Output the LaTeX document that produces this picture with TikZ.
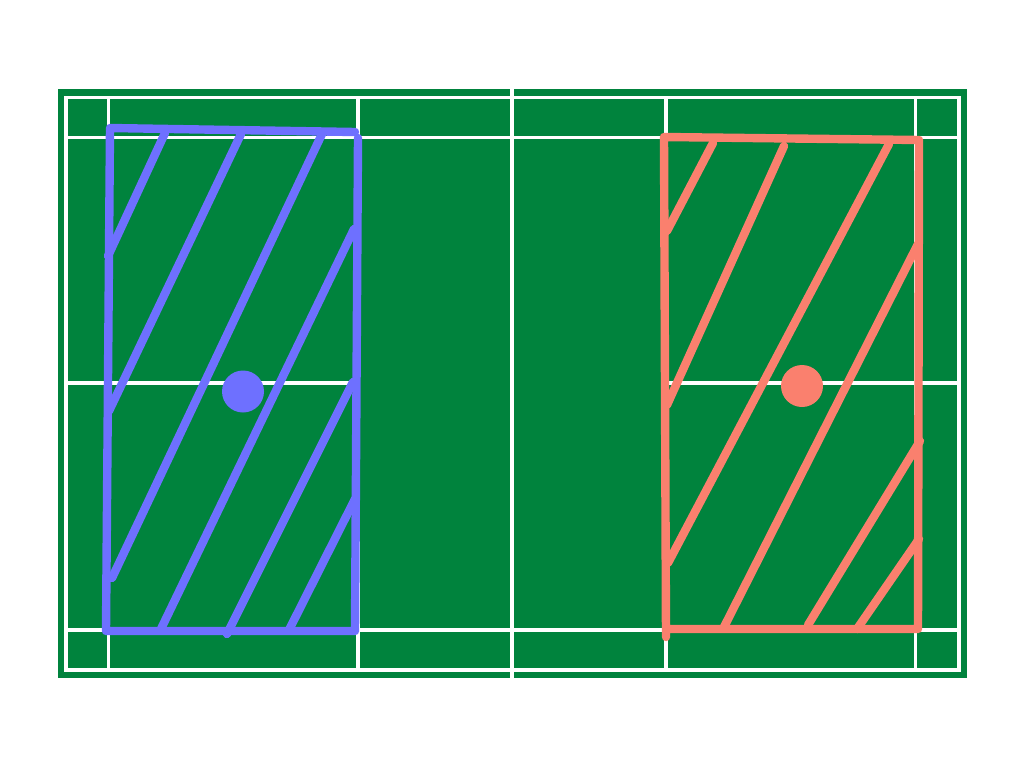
\documentclass[tikz,border=0pt]{standalone}
\begin{document}
\begin{tikzpicture}[x=0.75pt,y=-0.75pt,
  courtline/.style={draw=white,line width=2.4pt},
  bluezone/.style={draw=zoneblue,line width=6.3pt,line cap=round,line join=round},
  redzone/.style={draw=zonered,line width=6.3pt,line cap=round,line join=round},
  dot/.style={circle,inner sep=0pt,minimum size=31.5pt}]
\definecolor{courtgreen}{RGB}{0,131,61}
\definecolor{zoneblue}{RGB}{110,112,255}
\definecolor{zonered}{RGB}{250,128,110}
\useasboundingbox (0,0) rectangle (1024,768);
\fill[white] (0,0) rectangle (1024,768);
% court
\fill[courtgreen] (58,89) rectangle (966.5,678);
\draw[courtline] (66,97.5) rectangle (959,670);
\draw[courtline] (66,137.5) -- (959,137.5);
\draw[courtline] (66,630) -- (959,630);
\draw[courtline] (66,383) -- (358,383);
\draw[courtline] (666,383) -- (959,383);
\draw[courtline] (108.5,97.5) -- (108.5,670);
\draw[courtline] (915.5,97.5) -- (915.5,670);
\draw[courtline] (358,97.5) -- (358,670);
\draw[courtline] (666,97.5) -- (666,670);
\draw[courtline] (512,89) -- (512,678);
% blue zone
\draw[bluezone] (355,132) -- (110,128) -- (106,631) -- (355,631) -- (358,138);
\draw[bluezone] (108,256) -- (165,133);
\draw[bluezone] (109,411) -- (241,134);
\draw[bluezone] (112,578) -- (322,134);
\draw[bluezone] (160,631) -- (354,229);
\draw[bluezone] (227,634) -- (353,382);
\draw[bluezone] (289,630) -- (355,499);
\node[dot,fill=zoneblue] (bdot) at (243,391.5) {};
% red zone
\draw[redzone] (666,637) -- (664,137) -- (919,140) -- (918,629) -- (667,629);
\draw[redzone] (667,231) -- (713,143);
\draw[redzone] (667,405) -- (784,146);
\draw[redzone] (668,563) -- (889,144);
\draw[redzone] (723,629) -- (918,244);
\draw[redzone] (808,625) -- (920,441);
\draw[redzone] (857,629) -- (919,539);
\node[dot,fill=zonered] (rdot) at (802,386) {};
\end{tikzpicture}
\end{document}
